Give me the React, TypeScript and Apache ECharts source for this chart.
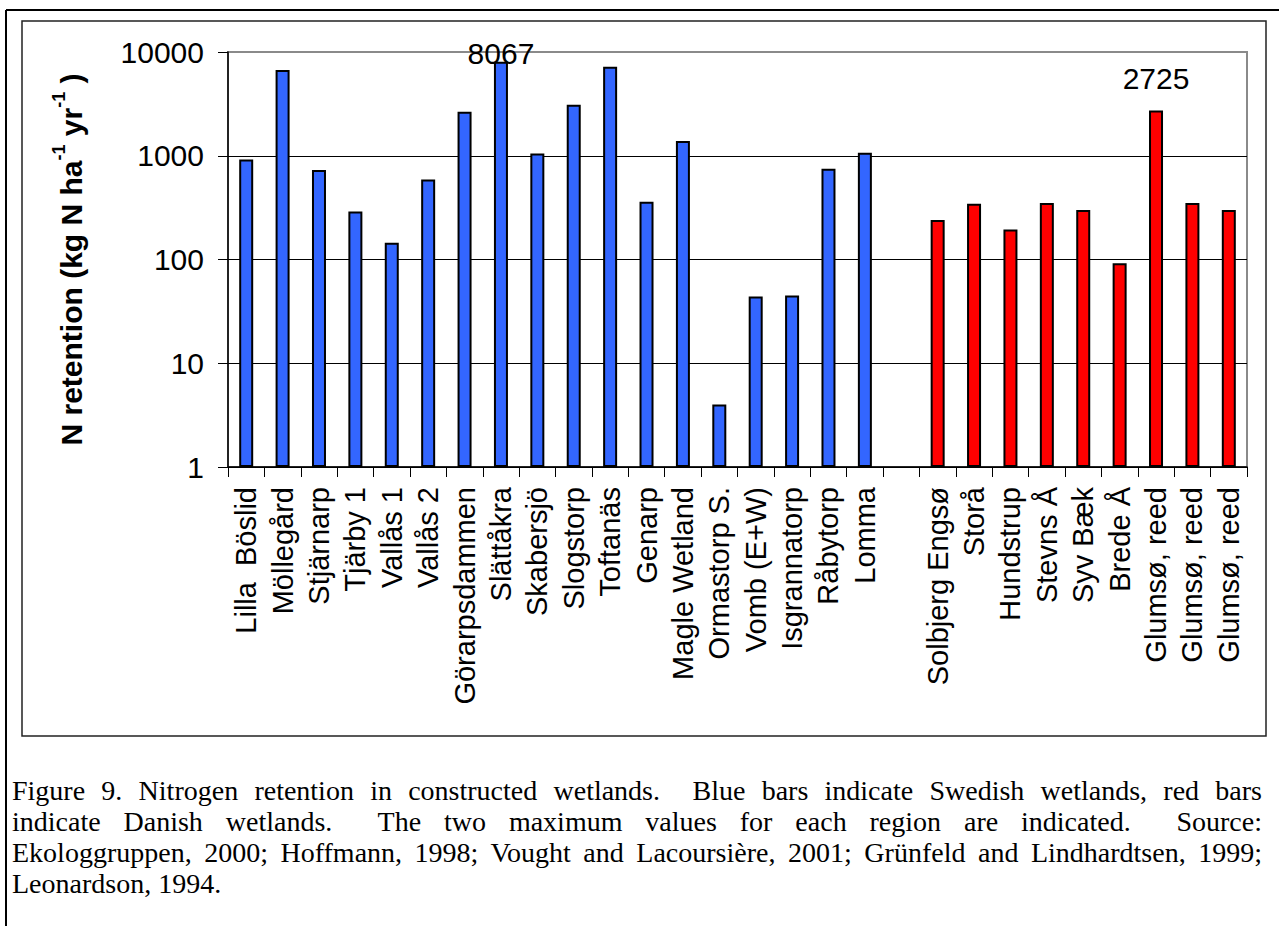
import React, { useEffect, useRef } from "react";
import * as echarts from "echarts";

const swedishNames = [
  "Lilla  Böslid", "Möllegård", "Stjärnarp", "Tjärby 1", "Vallås 1", "Vallås 2",
  "Görarpsdammen", "Slättåkra", "Skabersjö", "Slogstorp", "Toftanäs", "Genarp",
  "Magle Wetland", "Ormastorp S.", "Vomb (E+W)", "Isgrannatorp", "Råbytorp", "Lomma",
];
const swedishValues = [920, 6700, 730, 290, 145, 590, 2650, 8067, 1050, 3100, 7200, 360, 1390, 4, 44, 45, 750, 1070];
const danishNames = [
  "Solbjerg Engsø", "Storå", "Hundstrup", "Stevns Å", "Syv Bæk", "Brede Å",
  "Glumsø, reed", "Glumsø, reed", "Glumsø, reed",
];
const danishValues = [240, 345, 195, 350, 300, 92, 2725, 350, 300];
const labelledValues = [8067, 2725];
const yMin = 1;
const yMax = 10000;

const captionLines = [
  "Figure 9. Nitrogen retention in constructed wetlands.\u00a0 Blue bars indicate Swedish wetlands, red bars",
  "indicate Danish wetlands.\u00a0 The two maximum values for each region are indicated.\u00a0 Source:",
  "Ekologgruppen, 2000; Hoffmann, 1998; Vought and Lacoursière, 2001; Grünfeld and Lindhardtsen, 1999;",
  "Leonardson, 1994.",
];

const FONT = "Arial, 'Liberation Sans', Helvetica, sans-serif";
const CAPTION_WIDTH = 1250;

export default function App() {
  const ref = useRef<HTMLDivElement>(null);
  const capRef = useRef<HTMLDivElement>(null);

  useEffect(() => {
    const cap = capRef.current;
    if (cap) {
      const rows = Array.from(cap.children) as HTMLDivElement[];
      rows.forEach((row, i) => {
        const span = row.firstElementChild as HTMLSpanElement;
        const natural = span.getBoundingClientRect().width;
        const last = i === rows.length - 1;
        const s = last ? 1 : Math.min(1, CAPTION_WIDTH / natural);
        row.style.width = (last ? CAPTION_WIDTH : Math.max(CAPTION_WIDTH / s, natural + 1)) + "px";
        row.style.transform = `scaleX(${s})`;
        row.style.transformOrigin = "left top";
        row.style.textAlign = "justify";
        row.style.textAlignLast = last ? "left" : "justify";
        span.style.whiteSpace = "normal";
      });
    }
  }, []);

  useEffect(() => {
    if (!ref.current) return;
    const chart = echarts.init(ref.current, undefined, { renderer: "svg" });
    const categories = [...swedishNames, "", ...danishNames];
    const gap = 1;
    const labelDistance: Record<number, number> = { 8067: -7, 2725: 17 };
    const mk = (v: number) =>
      labelledValues.includes(v)
        ? {
            value: v,
            label: {
              show: true,
              position: "top",
              distance: labelDistance[v],
              formatter: String(v),
              fontSize: 30,
              fontFamily: FONT,
              color: "#000",
            },
          }
        : v;
    const blueData = [
      ...swedishValues.map(mk),
      ...new Array(gap + danishValues.length).fill(null),
    ];
    const redData = [
      ...new Array(swedishValues.length + gap).fill(null),
      ...danishValues.map(mk),
    ];
    chart.setOption({
      animation: false,
      backgroundColor: "#fff",
      grid: {
        left: 228,
        top: 52,
        right: 32,
        bottom: 459,
        show: true,
        borderColor: "#8a8a8a",
        borderWidth: 2,
        backgroundColor: "transparent",
      },
      xAxis: {
        type: "category",
        data: categories,
        boundaryGap: true,
        axisLine: { lineStyle: { color: "#000", width: 1.5 } },
        axisTick: { show: true, length: 10, inside: false, alignWithLabel: false, interval: 0, lineStyle: { color: "#000" } },
        axisLabel: {
          interval: 0,
          rotate: 90,
          margin: 20,
          fontSize: 29,
          fontFamily: FONT,
          color: "#000",
        },
        splitLine: { show: false },
      },
      yAxis: {
        type: "log",
        logBase: 10,
        min: yMin,
        max: yMax,
        axisLine: { show: true, lineStyle: { color: "#000", width: 1.5 } },
        axisTick: { show: true, length: 10, inside: false, lineStyle: { color: "#000" } },
        axisLabel: {
          margin: 24,
          fontSize: 30,
          fontFamily: FONT,
          color: "#000",
          formatter: (v: number) => String(Math.round(v)),
        },
        splitLine: { show: true, showMaxLine: false, lineStyle: { color: "#000", width: 1 } },
        name: "{b|N retention (kg N ha}{s|-1}{b| yr}{s|-1}{b| )}",
        nameLocation: "middle",
        nameGap: 142,
        nameRotate: 90,
        nameTextStyle: {
          color: "#000",
          fontFamily: FONT,
          rich: {
            b: { fontSize: 30, fontWeight: "bold", fontFamily: FONT, color: "#000", lineHeight: 36, verticalAlign: "bottom" },
            s: { fontSize: 18, fontWeight: "bold", fontFamily: FONT, color: "#000", lineHeight: 36, verticalAlign: "top" },
          },
        },
      },
      series: [
        {
          type: "bar",
          data: blueData,
          barWidth: 14,
          barGap: "-100%",
          itemStyle: { color: "#3366ff", borderColor: "#000", borderWidth: 2 },
        },
        {
          type: "bar",
          data: redData,
          barWidth: 14,
          barGap: "-100%",
          itemStyle: { color: "#ff0000", borderColor: "#000", borderWidth: 2 },
        },
      ],
      graphic: [
        {
          type: "line",
          shape: { x1: 6, y1: 10, x2: 1279, y2: 10 },
          style: { stroke: "#000", lineWidth: 2 },
        },
        {
          type: "line",
          shape: { x1: 6, y1: 10, x2: 6, y2: 926 },
          style: { stroke: "#000", lineWidth: 2 },
        },
        {
          type: "rect",
          shape: { x: 22, y: 21, width: 1244, height: 715 },
          style: { fill: "none", stroke: "#222", lineWidth: 1.5 },
          silent: true,
        },
      ],
    });
    return () => chart.dispose();
  }, []);

  return (
    <div style={{ position: "absolute", left: 0, top: 0, width: 1279, height: 926, background: "#fff", overflow: "hidden" }}>
      <div ref={ref} style={{ position: "absolute", left: 0, top: 0, width: 1279, height: 926 }} />
      <div
        ref={capRef}
        style={{
          position: "absolute",
          left: 12,
          top: 775,
          fontFamily: "'Liberation Serif', 'Times New Roman', serif",
          fontSize: 28,
          lineHeight: "31px",
          color: "#000",
        }}
      >
        {captionLines.map((line, i) => (
          <div key={i} style={{ width: 2000 }}>
            <span style={{ whiteSpace: "pre" }}>{line}</span>
          </div>
        ))}
      </div>
    </div>
  );
}
